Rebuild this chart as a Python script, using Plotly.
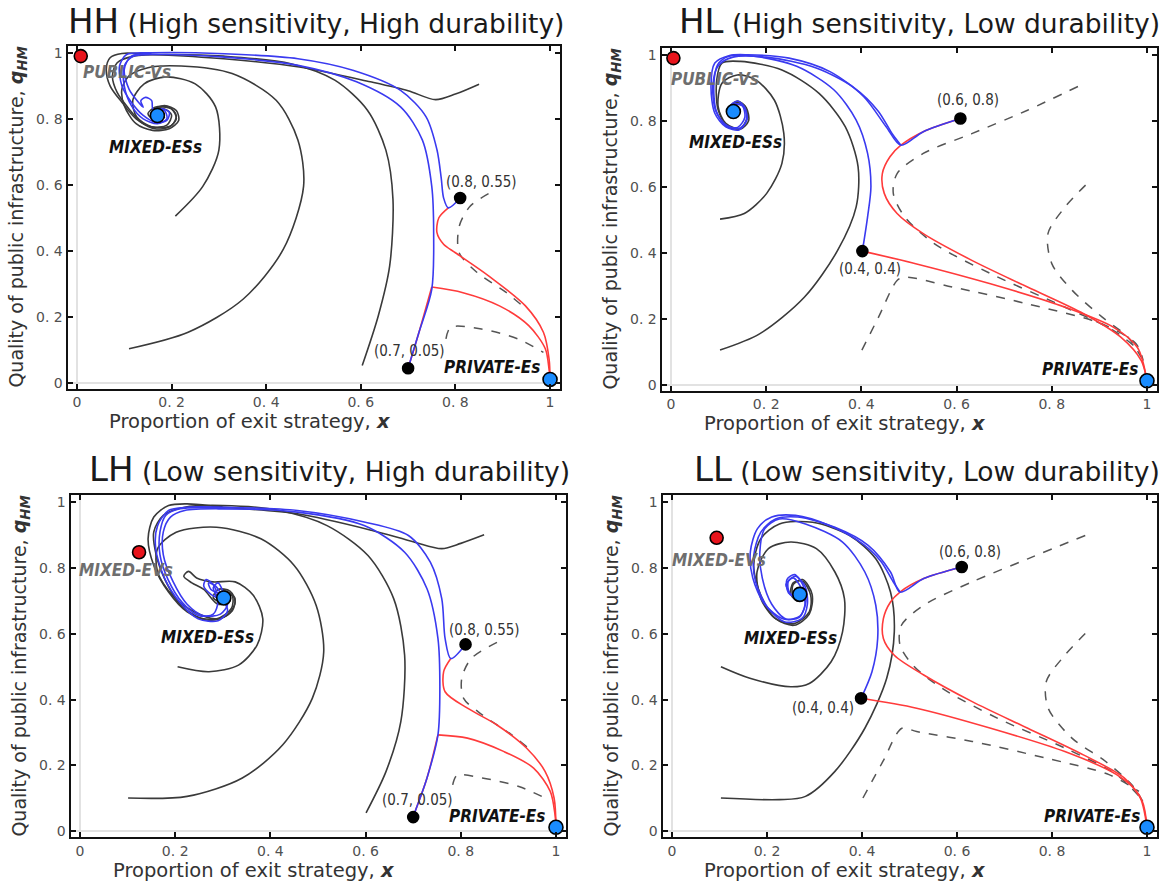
import plotly.graph_objects as go

# ---------------- data: HH ----------------
HH_BLACK_1 = [(0.85,0.905),(0.80,0.875),(0.758,0.858),(0.70,0.885),(0.62,0.912),(0.47,0.957),(0.31,0.982),(0.16,0.995),(0.095,0.998),(0.07,0.985),(0.062,0.95),(0.07,0.9),(0.095,0.85),(0.125,0.8),(0.16,0.775),(0.2,0.78),(0.21,0.81),(0.195,0.835),(0.165,0.835),(0.15,0.815),(0.165,0.795),(0.185,0.805),(0.175,0.812)]
HH_BLACK_2 = [(0.603,0.052),(0.637,0.203),(0.661,0.354),(0.668,0.555),(0.653,0.705),(0.614,0.826),(0.545,0.917),(0.452,0.967),(0.31,0.99),(0.2,0.995),(0.12,0.99),(0.085,0.97),(0.075,0.93),(0.085,0.88),(0.11,0.83),(0.135,0.79),(0.165,0.77),(0.195,0.775),(0.21,0.80),(0.2,0.83),(0.175,0.835),(0.16,0.815),(0.17,0.8)]
HH_BLACK_3 = [(0.11,0.103),(0.235,0.153),(0.351,0.253),(0.436,0.404),(0.479,0.595),(0.467,0.736),(0.421,0.856),(0.328,0.937),(0.22,0.96),(0.15,0.955),(0.11,0.93),(0.095,0.89),(0.1,0.84),(0.125,0.785),(0.16,0.765),(0.195,0.77),(0.215,0.795),(0.21,0.825),(0.185,0.84),(0.16,0.825),(0.165,0.805)]
HH_BLACK_4 = [(0.208,0.505),(0.266,0.595),(0.30,0.705),(0.293,0.836),(0.25,0.906),(0.188,0.927),(0.142,0.906),(0.118,0.856),(0.126,0.806),(0.157,0.776),(0.19,0.781),(0.2,0.811),(0.185,0.83),(0.165,0.825),(0.163,0.81)]
HH_BLUE_1 = [(0.81,0.56),(0.785,0.53),(0.775,0.56),(0.77,0.62),(0.761,0.706),(0.738,0.806),(0.684,0.886),(0.583,0.947),(0.467,0.982),(0.312,0.997),(0.157,1.0),(0.105,0.995),(0.09,0.96),(0.095,0.9),(0.115,0.85),(0.14,0.81),(0.165,0.79),(0.19,0.795),(0.195,0.82),(0.178,0.83),(0.168,0.815)]
HH_BLUE_2 = [(0.70,0.044),(0.723,0.153),(0.75,0.283),(0.754,0.454),(0.75,0.595),(0.73,0.736),(0.684,0.836),(0.591,0.912),(0.467,0.962),(0.312,0.987),(0.18,0.995),(0.12,0.99),(0.1,0.96),(0.1,0.9),(0.115,0.84),(0.14,0.8),(0.17,0.785),(0.19,0.80),(0.185,0.825),(0.165,0.822),(0.17,0.81)]
HH_BLUE_3 = [(0.157,0.998),(0.115,0.99),(0.1,0.95),(0.11,0.89),(0.13,0.85),(0.14,0.835),(0.135,0.855),(0.145,0.865),(0.158,0.855),(0.16,0.83),(0.172,0.812)]
HH_RED_1 = [(0.785,0.53),(0.765,0.50),(0.761,0.455),(0.775,0.42),(0.80,0.394),(0.87,0.324),(0.948,0.233),(0.986,0.153),(0.998,0.072),(1.0,0.012)]
HH_RED_2 = [(0.75,0.29),(0.816,0.273),(0.893,0.233),(0.955,0.173),(0.99,0.103),(0.998,0.04),(1.0,0.012)]
HH_RED_3 = [(0.70,0.044),(0.723,0.153),(0.75,0.29)]
HH_DASH_1 = [(0.87,0.573),(0.831,0.535),(0.808,0.474),(0.808,0.394),(0.846,0.334),(0.908,0.273),(0.94,0.235)]
HH_DASH_2 = [(0.78,0.133),(0.79,0.168),(0.855,0.163),(0.932,0.133),(0.986,0.092)]
HH_RED_DOTS = [(0.008,0.99)]
HH_BLUE_DOTS = [(0.17,0.81),(1.0,0.01)]
HH_BLACK_DOTS = [(0.81,0.56),(0.70,0.044)]

# ---------------- data: HL ----------------
HL_BLACK_1 = [(0.103,0.105),(0.186,0.154),(0.28,0.265),(0.35,0.407),(0.389,0.539),(0.393,0.661),(0.366,0.782),(0.311,0.883),(0.233,0.954),(0.146,0.98),(0.107,0.975),(0.096,0.924),(0.099,0.833),(0.119,0.782),(0.146,0.777),(0.16,0.81),(0.155,0.845),(0.135,0.855),(0.12,0.83),(0.13,0.81),(0.14,0.825)]
HL_BLACK_2 = [(0.103,0.502),(0.154,0.519),(0.201,0.58),(0.233,0.671),(0.237,0.762),(0.217,0.863),(0.178,0.924),(0.139,0.939),(0.107,0.914),(0.099,0.843),(0.115,0.792),(0.146,0.775),(0.163,0.80),(0.158,0.84),(0.14,0.86),(0.122,0.84),(0.125,0.815),(0.14,0.82)]
HL_BLUE_1 = [(0.608,0.807),(0.53,0.767),(0.483,0.726),(0.452,0.782),(0.405,0.873),(0.334,0.949),(0.248,0.99),(0.162,1.0),(0.123,0.998),(0.092,0.975),(0.084,0.904),(0.092,0.823),(0.115,0.782),(0.143,0.772),(0.158,0.80),(0.155,0.84),(0.14,0.86),(0.125,0.845),(0.128,0.82),(0.138,0.83)]
HL_BLUE_2 = [(0.402,0.405),(0.413,0.509),(0.42,0.6),(0.413,0.701),(0.389,0.802),(0.342,0.894),(0.264,0.965),(0.178,0.995),(0.12,0.995),(0.098,0.97),(0.09,0.91),(0.095,0.83),(0.115,0.785),(0.14,0.78),(0.155,0.81),(0.15,0.845),(0.132,0.85),(0.125,0.825)]
HL_BLUE_3 = [(0.483,0.726),(0.465,0.76),(0.435,0.83),(0.385,0.9),(0.305,0.96),(0.2,0.993),(0.13,0.993),(0.1,0.968),(0.088,0.91),(0.094,0.83),(0.118,0.785),(0.145,0.778),(0.16,0.805),(0.152,0.845),(0.135,0.852)]
HL_RED_1 = [(0.608,0.807),(0.53,0.767),(0.483,0.726),(0.46,0.691),(0.444,0.64),(0.448,0.58),(0.475,0.519),(0.53,0.458),(0.632,0.377),(0.749,0.296),(0.867,0.215),(0.945,0.144),(0.988,0.073),(1.0,0.012)]
HL_RED_2 = [(0.402,0.405),(0.514,0.367),(0.671,0.306),(0.828,0.235),(0.93,0.174),(0.98,0.113),(1.0,0.012)]
HL_DASH_1 = [(0.855,0.904),(0.749,0.832),(0.632,0.761),(0.53,0.701),(0.475,0.64),(0.467,0.58),(0.491,0.509),(0.553,0.428),(0.671,0.337),(0.828,0.235),(0.93,0.164),(0.985,0.103)]
HL_DASH_2 = [(0.871,0.605),(0.828,0.539),(0.792,0.458),(0.8,0.367),(0.843,0.286),(0.906,0.205),(0.96,0.144),(0.988,0.083)]
HL_DASH_3 = [(0.401,0.105),(0.436,0.205),(0.475,0.316),(0.491,0.326),(0.592,0.296),(0.749,0.245),(0.906,0.184),(0.977,0.124),(0.992,0.073)]
HL_RED_DOTS = [(0.005,0.99)]
HL_BLUE_DOTS = [(0.131,0.828),(1.0,0.012)]
HL_BLACK_DOTS = [(0.608,0.807),(0.402,0.405)]

# ---------------- data: LH ----------------
LH_BLACK_1 = [(0.849,0.901),(0.80,0.875),(0.76,0.859),(0.70,0.88),(0.612,0.915),(0.457,0.965),(0.302,0.985),(0.225,0.995),(0.186,0.99),(0.155,0.955),(0.143,0.889),(0.155,0.808),(0.186,0.727),(0.225,0.667),(0.271,0.641),(0.31,0.657),(0.326,0.697),(0.315,0.73),(0.29,0.735),(0.28,0.71),(0.3,0.695),(0.305,0.71)]
LH_BLACK_2 = [(0.601,0.056),(0.643,0.182),(0.674,0.333),(0.682,0.535),(0.659,0.707),(0.605,0.838),(0.519,0.929),(0.419,0.975),(0.30,0.99),(0.22,0.985),(0.175,0.96),(0.155,0.91),(0.16,0.84),(0.18,0.76),(0.21,0.69),(0.25,0.65),(0.29,0.645),(0.32,0.67),(0.325,0.71),(0.305,0.73),(0.285,0.715),(0.295,0.70)]
LH_BLACK_3 = [(0.101,0.101),(0.225,0.106),(0.341,0.162),(0.426,0.263),(0.488,0.404),(0.512,0.545),(0.496,0.687),(0.45,0.808),(0.38,0.889),(0.287,0.924),(0.202,0.909),(0.163,0.859),(0.163,0.788),(0.194,0.717),(0.24,0.667),(0.287,0.646),(0.318,0.677),(0.32,0.715),(0.3,0.73),(0.285,0.71)]
LH_BLACK_4 = [(0.205,0.50),(0.271,0.485),(0.333,0.505),(0.372,0.566),(0.384,0.646),(0.364,0.717),(0.326,0.758),(0.279,0.758),(0.245,0.77),(0.228,0.79),(0.218,0.775),(0.235,0.755),(0.26,0.735),(0.29,0.69),(0.315,0.70),(0.31,0.72),(0.295,0.715)]
LH_BLUE_1 = [(0.81,0.568),(0.779,0.525),(0.767,0.586),(0.76,0.707),(0.736,0.818),(0.69,0.899),(0.597,0.94),(0.457,0.975),(0.3,0.985),(0.225,0.985),(0.186,0.975),(0.163,0.929),(0.159,0.859),(0.178,0.768),(0.209,0.697),(0.248,0.646),(0.29,0.64),(0.31,0.67),(0.30,0.70),(0.275,0.72),(0.26,0.745),(0.265,0.765),(0.28,0.75),(0.29,0.72),(0.3,0.71)]
LH_BLUE_2 = [(0.70,0.045),(0.729,0.162),(0.752,0.293),(0.756,0.434),(0.752,0.586),(0.729,0.737),(0.682,0.848),(0.597,0.929),(0.457,0.97),(0.30,0.98),(0.22,0.975),(0.19,0.955),(0.175,0.91),(0.175,0.84),(0.195,0.76),(0.225,0.69),(0.26,0.655),(0.295,0.66),(0.31,0.69),(0.295,0.72),(0.275,0.735),(0.27,0.755),(0.285,0.745),(0.3,0.71)]
LH_BLUE_3 = [(0.3,0.982),(0.21,0.98),(0.18,0.96),(0.168,0.91),(0.168,0.84),(0.185,0.765),(0.215,0.695),(0.25,0.655),(0.28,0.66),(0.29,0.70),(0.28,0.74),(0.29,0.755),(0.3,0.73)]
LH_RED_1 = [(0.779,0.525),(0.764,0.485),(0.767,0.424),(0.814,0.374),(0.876,0.323),(0.938,0.253),(0.977,0.182),(0.996,0.101),(1.0,0.012)]
LH_RED_2 = [(0.752,0.293),(0.814,0.283),(0.891,0.242),(0.953,0.192),(0.988,0.121),(0.998,0.05),(1.0,0.012)]
LH_RED_3 = [(0.70,0.045),(0.729,0.162),(0.752,0.293)]
LH_DASH_1 = [(0.876,0.574),(0.822,0.525),(0.802,0.465),(0.806,0.404),(0.845,0.354),(0.907,0.293),(0.94,0.255)]
LH_DASH_2 = [(0.783,0.141),(0.792,0.170),(0.845,0.162),(0.922,0.136),(0.984,0.096)]
LH_RED_DOTS = [(0.124,0.848)]
LH_BLUE_DOTS = [(0.302,0.709),(1.0,0.012)]
LH_BLACK_DOTS = [(0.81,0.568),(0.70,0.043)]

# ---------------- data: LL ----------------
LL_BLACK_1 = [(0.103,0.5),(0.164,0.465),(0.25,0.439),(0.289,0.449),(0.335,0.515),(0.359,0.606),(0.363,0.707),(0.343,0.788),(0.304,0.859),(0.25,0.879),(0.203,0.859),(0.179,0.788),(0.187,0.707),(0.218,0.646),(0.257,0.631),(0.289,0.667),(0.292,0.717),(0.275,0.76),(0.255,0.755),(0.25,0.72),(0.265,0.70),(0.275,0.72)]
LL_BLACK_2 = [(0.103,0.101),(0.226,0.096),(0.281,0.106),(0.343,0.182),(0.406,0.313),(0.452,0.465),(0.468,0.606),(0.46,0.727),(0.429,0.828),(0.374,0.899),(0.296,0.939),(0.226,0.934),(0.187,0.889),(0.172,0.808),(0.187,0.717),(0.218,0.646),(0.257,0.626),(0.289,0.66),(0.295,0.72),(0.275,0.765),(0.255,0.75),(0.255,0.715),(0.27,0.715)]
LL_BLUE_1 = [(0.61,0.803),(0.53,0.768),(0.48,0.727),(0.46,0.788),(0.413,0.869),(0.343,0.924),(0.265,0.955),(0.218,0.949),(0.187,0.909),(0.172,0.838),(0.176,0.758),(0.203,0.677),(0.238,0.636),(0.273,0.646),(0.285,0.69),(0.28,0.745),(0.26,0.775),(0.245,0.76),(0.248,0.72),(0.265,0.71)]
LL_BLUE_2 = [(0.398,0.404),(0.421,0.485),(0.433,0.586),(0.429,0.687),(0.406,0.788),(0.359,0.879),(0.281,0.934),(0.226,0.949),(0.195,0.919),(0.185,0.85),(0.19,0.77),(0.21,0.69),(0.24,0.645),(0.27,0.655),(0.282,0.70),(0.275,0.75),(0.258,0.78),(0.242,0.765),(0.245,0.725),(0.262,0.715)]
LL_BLUE_3 = [(0.48,0.727),(0.465,0.76),(0.44,0.82),(0.4,0.875),(0.33,0.93),(0.26,0.96),(0.21,0.955),(0.18,0.92),(0.165,0.85),(0.17,0.77),(0.195,0.69),(0.235,0.645),(0.268,0.65),(0.28,0.69),(0.272,0.74),(0.255,0.77),(0.24,0.75),(0.25,0.72)]
LL_RED_1 = [(0.61,0.803),(0.53,0.768),(0.48,0.727),(0.46,0.697),(0.445,0.646),(0.445,0.586),(0.468,0.535),(0.53,0.475),(0.632,0.394),(0.749,0.313),(0.866,0.232),(0.952,0.162),(0.99,0.091),(1.0,0.012)]
LL_RED_2 = [(0.398,0.404),(0.515,0.374),(0.671,0.313),(0.827,0.242),(0.936,0.172),(0.983,0.111),(1.0,0.012)]
LL_DASH_1 = [(0.87,0.899),(0.749,0.828),(0.632,0.758),(0.53,0.687),(0.483,0.626),(0.48,0.566),(0.507,0.505),(0.569,0.434),(0.686,0.343),(0.827,0.253),(0.936,0.172),(0.987,0.101)]
LL_DASH_2 = [(0.87,0.601),(0.827,0.535),(0.788,0.455),(0.792,0.374),(0.842,0.283),(0.913,0.212),(0.968,0.141),(0.991,0.091)]
LL_DASH_3 = [(0.402,0.101),(0.444,0.212),(0.484,0.313),(0.515,0.303),(0.632,0.273),(0.788,0.222),(0.92,0.172),(0.983,0.121)]
LL_RED_DOTS = [(0.094,0.892)]
LL_BLUE_DOTS = [(0.269,0.72),(1.0,0.012)]
LL_BLACK_DOTS = [(0.61,0.803),(0.398,0.404)]

# ---------------- text ----------------
TICK_VALS = [0, 0.2, 0.4, 0.6, 0.8, 1]
TICK_TEXT = ["0", "0. 2", "0. 4", "0. 6", "0. 8", "1"]
PANEL_CODES = ["HH", "HL", "LH", "LL"]
PANEL_SUBTITLES = ["(High sensitivity, High durability)", "(High sensitivity, Low durability)",
                   "(Low sensitivity, High durability)", "(Low sensitivity, Low durability)"]
X_TITLE = "Proportion of exit strategy, <b><i>x</i></b>"
Y_TITLE = "Quality of public infrastructure, <b><i>q<sub>HM</sub></i></b>"

# labels: (text, x, y, style)
HH_LABELS = [("(0.8, 0.55)", 0.855, 0.607, "coord"), ("(0.7, 0.05)", 0.703, 0.097, "coord"),
             ("PUBLIC-Vs", 0.105, 0.942, "gray"), ("MIXED-ESs", 0.165, 0.716, "black"),
             ("PRIVATE-Es", 0.878, 0.047, "black")]
HL_LABELS = [("(0.6, 0.8)", 0.624, 0.863, "coord"), ("(0.4, 0.4)", 0.417, 0.352, "coord"),
             ("PUBLIC-Vs", 0.092, 0.926, "gray"), ("MIXED-ESs", 0.135, 0.737, "black"),
             ("PRIVATE-Es", 0.881, 0.048, "black")]
LH_LABELS = [("(0.8, 0.55)", 0.849, 0.611, "coord"), ("(0.7, 0.05)", 0.709, 0.096, "coord"),
             ("MIXED-EVs", 0.097, 0.793, "gray"), ("MIXED-ESs", 0.267, 0.591, "black"),
             ("PRIVATE-Es", 0.876, 0.045, "black")]
LL_LABELS = [("(0.6, 0.8)", 0.628, 0.848, "coord"), ("(0.4, 0.4)", 0.318, 0.374, "coord"),
             ("MIXED-EVs", 0.098, 0.823, "gray"), ("MIXED-ESs", 0.25, 0.586, "black"),
             ("PRIVATE-Es", 0.885, 0.045, "black")]

# ---------------- styling / layout ----------------
W, H = 1164, 884
BLACK_C, BLUE_C, RED_C, DASH_C = "#3a3a3a", "#3a3af0", "#ff3b3b", "#555555"
FONT = "DejaVu Sans"
COND = "DejaVu Sans Condensed"

# panel frames in pixels: (left, right, top, bottom)
FRAMES = [(67.5, 559.5, 44.7, 389), (661.5, 1156.5, 46.7, 391),
          (70.5, 565.5, 495.7, 839), (662.5, 1156.5, 495.7, 839)]
XR = [-0.02, 1.02]
YR = [-0.018, 1.022]

panels = [
    dict(black=[HH_BLACK_1, HH_BLACK_2, HH_BLACK_3, HH_BLACK_4], blue=[HH_BLUE_1, HH_BLUE_2, HH_BLUE_3],
         red=[HH_RED_1, HH_RED_2, HH_RED_3], dash=[HH_DASH_1, HH_DASH_2], rd=HH_RED_DOTS, bd=HH_BLUE_DOTS,
         kd=HH_BLACK_DOTS, labels=HH_LABELS),
    dict(black=[HL_BLACK_1, HL_BLACK_2], blue=[HL_BLUE_1, HL_BLUE_2, HL_BLUE_3],
         red=[HL_RED_1, HL_RED_2], dash=[HL_DASH_1, HL_DASH_2, HL_DASH_3], rd=HL_RED_DOTS, bd=HL_BLUE_DOTS,
         kd=HL_BLACK_DOTS, labels=HL_LABELS),
    dict(black=[LH_BLACK_1, LH_BLACK_2, LH_BLACK_3, LH_BLACK_4], blue=[LH_BLUE_1, LH_BLUE_2, LH_BLUE_3],
         red=[LH_RED_1, LH_RED_2, LH_RED_3], dash=[LH_DASH_1, LH_DASH_2], rd=LH_RED_DOTS, bd=LH_BLUE_DOTS,
         kd=LH_BLACK_DOTS, labels=LH_LABELS),
    dict(black=[LL_BLACK_1, LL_BLACK_2], blue=[LL_BLUE_1, LL_BLUE_2, LL_BLUE_3],
         red=[LL_RED_1, LL_RED_2], dash=[LL_DASH_1, LL_DASH_2, LL_DASH_3], rd=LL_RED_DOTS, bd=LL_BLUE_DOTS,
         kd=LL_BLACK_DOTS, labels=LL_LABELS),
]

fig = go.Figure()
annotations = []
layout_axes = {}


def xs(pts):
    return [p[0] for p in pts]


def ys(pts):
    return [p[1] for p in pts]


for i, p in enumerate(panels):
    n = "" if i == 0 else str(i + 1)
    xa, ya = "x" + n, "y" + n
    L, R, T, B = FRAMES[i]

    def line(pts, color, dash="solid", width=1.6):
        fig.add_trace(go.Scatter(x=xs(pts), y=ys(pts), mode="lines", xaxis=xa, yaxis=ya,
                                 line=dict(color=color, width=width, dash=dash, shape="spline", smoothing=0.85),
                                 hoverinfo="skip", showlegend=False))

    for c in p["dash"]:
        line(c, DASH_C, dash="dash", width=1.5)
    for c in p["black"]:
        line(c, BLACK_C)
    for c in p["red"]:
        line(c, RED_C)
    for c in p["blue"]:
        line(c, BLUE_C)

    for pts, col, size in ((p["kd"], "#000000", 11), (p["rd"], "#e8141c", 13), (p["bd"], "#1a8cff", 14)):
        fig.add_trace(go.Scatter(x=xs(pts), y=ys(pts), mode="markers", xaxis=xa, yaxis=ya,
                                 marker=dict(color=col, size=size, line=dict(color="#000000", width=1.6)),
                                 hoverinfo="skip", showlegend=False, cliponaxis=False))

    for text, tx, ty, style in p["labels"]:
        if style == "coord":
            f = dict(family=COND, size=15, color="#333333")
            t = text
        elif style == "gray":
            f = dict(family=COND, size=17, color="#6e6e6e")
            t = "<b><i>" + text + "</i></b>"
        else:
            f = dict(family=COND, size=17, color="#111111")
            t = "<b><i>" + text + "</i></b>"
        annotations.append(dict(x=tx, y=ty, xref=xa, yref=ya, text=t, showarrow=False, font=f,
                                xanchor="center", yanchor="middle"))

    common = dict(showgrid=False, zeroline=True, zerolinecolor="#e2e2e2", zerolinewidth=2,
                  showline=True, linecolor="#111111", linewidth=2, mirror="ticks",
                  ticks="inside", ticklen=5, tickwidth=1.5, tickcolor="#111111",
                  tickvals=TICK_VALS, ticktext=TICK_TEXT,
                  tickfont=dict(family=FONT, size=14, color="#505050"), fixedrange=True)
    xcfg = dict(common, range=XR, domain=[L / W, R / W], anchor=ya)
    ycfg = dict(common, range=YR, domain=[1 - B / H, 1 - T / H], anchor=xa)
    layout_axes["xaxis" + n] = xcfg
    layout_axes["yaxis" + n] = ycfg

    # panel title
    right = R + 6 if i % 2 == 0 else 1162
    tcy = 20 if i < 2 else 470
    annotations.append(dict(x=right / W, y=1 - tcy / H, xref="paper", yref="paper", xanchor="right",
                            yanchor="middle", showarrow=False,
                            text="<span style='font-size:34px'>" + PANEL_CODES[i] + "</span> " + PANEL_SUBTITLES[i],
                            font=dict(family=FONT, size=26.5, color="#1a1a1a")))
    # axis titles
    xcx = L + (R - L) * 0.37
    annotations.append(dict(x=xcx / W, y=1 - (B + 33) / H, xref="paper", yref="paper", xanchor="center",
                            yanchor="middle", showarrow=False, text=X_TITLE,
                            font=dict(family=FONT, size=19.5, color="#333333")))
    annotations.append(dict(x=(L - 50) / W, y=1 - ((T + B) / 2) / H, xref="paper", yref="paper",
                            xanchor="center", yanchor="middle", showarrow=False, text=Y_TITLE, textangle=-90,
                            font=dict(family=FONT, size=19, color="#333333")))

fig.update_layout(width=W, height=H, margin=dict(l=0, r=0, t=0, b=0), paper_bgcolor="white",
                  plot_bgcolor="white", annotations=annotations, showlegend=False, **layout_axes)

fig.write_html("out.html")
